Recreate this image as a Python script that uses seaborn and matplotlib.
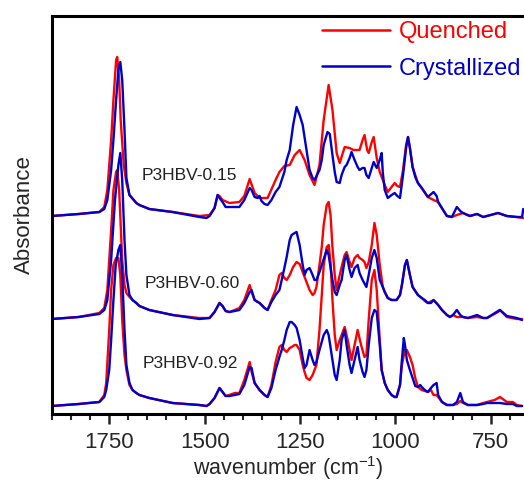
import numpy as np
import pandas as pd
import matplotlib
matplotlib.use("Agg")
import matplotlib.pyplot as plt
from matplotlib.lines import Line2D
from matplotlib.ticker import MultipleLocator
import seaborn as sns

# ---------------- data (wavenumber in cm^-1, absorbance in a.u. x100 above baseline) ----------------
wn_015_q = [1900,1830,1776,1763,1755,1745,1739,1732,1729,1724,1720,1712,1705,1697,1679,1671,1645,1584,1514,1487,1474,1466,1461,1453,1435,1409,1396,1382,1369,1356,1343,1335,1314,1304,1291,1277,1264,1251,1238,1225,1212,1199,1188,1175,1165,1154,1146,1133,1120,1110,1099,1094,1086,1081,1074,1070,1062,1057,1049,1041,1036,1028,1020,1010,1002,995,988,980,972,967,962,955,941,931,915,900,888,875,865,852,839,823,805,786,770,731,708,682,665]
a_015_q = [0,2,4,9,26,76,116,156,159,136,96,51,33,21,13,11,7,4,0,1,8,21,20,16,13,14,20,37,23,18,18,18,36,44,50,51,61,66,56,41,31,51,96,131,106,63,53,69,68,66,66,66,76,81,66,63,74,79,58,44,39,31,24,29,33,30,29,46,71,79,68,49,33,28,19,16,14,6,0,-1,1,3,0,2,-1,3,0,-1,-2]

wn_015_c = [1900,1830,1776,1763,1755,1745,1739,1732,1726,1721,1716,1710,1705,1697,1679,1671,1645,1584,1514,1495,1487,1474,1466,1461,1453,1445,1435,1409,1396,1382,1377,1369,1361,1356,1351,1343,1335,1325,1314,1304,1298,1291,1285,1277,1268,1259,1251,1243,1233,1225,1217,1212,1199,1193,1188,1178,1172,1165,1159,1154,1146,1141,1133,1128,1120,1115,1107,1099,1094,1086,1081,1076,1070,1062,1057,1049,1041,1036,1033,1028,1020,1010,1002,995,988,980,972,967,962,955,948,941,931,915,900,892,888,875,865,852,839,830,823,805,786,770,731,708,682,668,665]
a_015_c = [0,2,4,7,16,46,76,116,146,154,136,86,38,21,13,11,7,4,-1,-2,0,8,21,18,14,9,9,9,16,28,26,19,18,20,15,12,11,16,24,29,36,44,56,66,91,109,101,91,66,46,38,36,46,56,71,84,82,61,44,34,33,41,49,51,58,64,56,49,46,48,48,41,38,48,54,48,56,63,43,26,18,21,23,20,18,41,68,79,68,49,39,33,28,19,24,20,14,6,0,-1,9,5,3,0,2,-1,3,0,-1,-1,7]

wn_060_q = [1900,1830,1776,1763,1755,1745,1739,1732,1729,1724,1716,1710,1705,1697,1689,1679,1671,1645,1584,1514,1487,1474,1461,1453,1445,1435,1421,1409,1396,1382,1377,1369,1356,1343,1335,1325,1314,1304,1298,1291,1285,1277,1268,1259,1251,1243,1238,1233,1225,1217,1212,1207,1199,1193,1188,1180,1175,1170,1165,1159,1154,1146,1141,1133,1128,1120,1115,1107,1099,1094,1086,1081,1076,1070,1062,1055,1049,1041,1033,1028,1020,1010,1002,997,988,983,975,970,962,955,941,931,923,915,900,888,878,865,857,849,839,823,810,786,770,760,731,726,708,682,668]
a_060_q = [0,2,6,11,29,89,129,147,149,129,59,34,26,22,19,16,13,9,4,1,1,7,16,13,8,7,9,11,19,34,27,19,16,11,9,19,29,44,46,41,39,44,52,57,55,47,42,37,29,24,26,32,54,72,94,114,117,104,72,44,29,44,52,64,67,57,52,61,64,61,59,57,51,57,74,96,84,54,32,27,21,19,19,19,24,34,54,59,44,32,24,21,18,16,19,14,9,4,2,4,2,2,1,2,1,1,7,9,2,0,0]

wn_060_c = [1900,1830,1776,1763,1755,1745,1735,1726,1721,1716,1710,1705,1697,1689,1679,1671,1645,1584,1514,1487,1474,1461,1453,1445,1435,1421,1409,1396,1382,1377,1369,1361,1356,1343,1335,1325,1314,1304,1298,1291,1285,1277,1272,1264,1259,1251,1243,1238,1233,1225,1217,1212,1207,1199,1193,1180,1175,1165,1159,1154,1146,1141,1133,1128,1120,1115,1107,1099,1094,1086,1076,1070,1062,1055,1049,1041,1033,1028,1020,1010,1002,997,988,983,975,970,962,955,941,931,923,915,907,900,888,878,865,857,849,839,830,823,810,786,770,760,731,726,708,682,668]
a_060_c = [0,2,5,9,19,59,119,154,166,139,79,44,24,19,16,13,9,4,0,1,7,16,13,8,7,8,9,16,27,29,19,17,16,11,9,17,24,29,39,51,62,79,84,86,87,74,54,44,49,51,44,39,39,47,54,69,64,39,27,24,34,39,59,64,49,42,51,54,46,39,32,44,61,69,61,39,32,27,21,19,19,19,24,34,54,59,44,32,24,21,19,16,16,19,14,9,4,2,4,9,4,2,1,4,1,1,8,9,3,1,-1]

wn_092_q = [1900,1830,1776,1763,1758,1750,1745,1739,1732,1726,1721,1716,1710,1705,1697,1689,1679,1671,1645,1584,1514,1495,1487,1474,1461,1453,1445,1435,1421,1409,1396,1382,1377,1369,1356,1343,1335,1325,1314,1304,1298,1291,1285,1277,1272,1264,1259,1251,1243,1238,1233,1225,1217,1207,1199,1193,1188,1180,1175,1170,1165,1159,1154,1146,1141,1133,1125,1115,1107,1099,1090,1081,1076,1070,1062,1055,1049,1041,1036,1028,1020,1010,1002,997,988,983,975,970,962,955,948,941,931,923,915,907,900,892,878,865,857,849,839,830,823,810,786,770,760,740,726,715,708,692,682,668]
a_092_q = [0,2,4,11,23,76,116,141,148,148,131,86,51,36,21,16,13,11,8,3,1,0,2,8,18,14,10,11,13,13,26,44,34,23,16,11,9,21,44,59,61,56,54,58,59,61,61,56,41,34,28,26,31,41,76,111,141,159,161,144,106,71,56,66,71,79,66,46,61,76,61,49,51,86,126,136,116,66,36,23,16,11,9,9,21,41,56,56,49,41,28,19,16,15,14,16,11,11,4,1,1,1,2,5,3,1,1,3,4,6,9,6,4,4,1,0]

wn_092_c = [1900,1830,1776,1763,1758,1750,1745,1739,1733,1726,1721,1716,1710,1705,1697,1689,1679,1671,1645,1584,1514,1495,1487,1474,1461,1453,1445,1435,1421,1409,1396,1382,1377,1369,1356,1343,1335,1325,1314,1304,1298,1291,1285,1277,1272,1264,1259,1251,1243,1238,1233,1225,1217,1212,1207,1199,1188,1180,1175,1165,1159,1154,1146,1141,1133,1128,1120,1115,1107,1099,1094,1086,1081,1076,1070,1062,1055,1049,1041,1036,1028,1020,1010,1002,997,988,983,978,975,970,962,955,948,941,935,931,923,915,907,900,892,888,878,865,857,849,839,830,823,810,786,770,760,740,726,708,692,682,668]
a_092_c = [0,2,4,9,16,36,66,106,141,156,161,131,76,41,23,16,13,11,8,3,1,0,2,8,18,14,10,10,11,12,21,39,38,23,16,11,9,18,36,49,56,66,76,84,84,81,78,66,48,38,41,56,46,41,44,56,71,76,71,46,31,26,46,66,76,61,41,33,46,59,46,34,29,36,61,88,96,94,61,36,23,16,11,9,9,21,46,68,61,46,36,28,20,19,21,19,16,14,18,21,23,11,4,1,1,1,4,13,4,1,1,2,3,3,3,2,2,0,0]

samples = ["P3HBV-0.15", "P3HBV-0.60", "P3HBV-0.92"]
states = ["Quenched", "Crystallized"]
series = {
    ("P3HBV-0.15", "Quenched"): (wn_015_q, a_015_q),
    ("P3HBV-0.15", "Crystallized"): (wn_015_c, a_015_c),
    ("P3HBV-0.60", "Quenched"): (wn_060_q, a_060_q),
    ("P3HBV-0.60", "Crystallized"): (wn_060_c, a_060_c),
    ("P3HBV-0.92", "Quenched"): (wn_092_q, a_092_q),
    ("P3HBV-0.92", "Crystallized"): (wn_092_c, a_092_c),
}
# vertical stacking offsets (layout)
offsets = {"P3HBV-0.15": 1.98, "P3HBV-0.60": 0.95, "P3HBV-0.92": 0.08}

rows = []
for (s, st), (wn, a) in series.items():
    assert len(wn) == len(a), (s, st, len(wn), len(a))
    for w, v in zip(wn, a):
        rows.append({"wn": w, "A": v / 100.0 + offsets[s], "sample": s, "state": st})
df = pd.DataFrame(rows)

# ---------------- style ----------------
sns.set_style("ticks")
plt.rcParams["font.family"] = ["Liberation Sans", "DejaVu Sans"]
plt.rcParams["mathtext.fontset"] = "custom"
plt.rcParams["mathtext.rm"] = "Liberation Sans"
plt.rcParams["mathtext.default"] = "regular"

fig = plt.figure(figsize=(5.24, 4.84), dpi=100)
ax = fig.add_axes([52 / 524, 70 / 484, 1 - 52 / 524, (414 - 16) / 484])

palette = {"Quenched": "#ff0000", "Crystallized": "#0000cc"}
sns.lineplot(data=df, x="wn", y="A", hue="state", units="sample", estimator=None,
             hue_order=states, palette=palette, sort=False, linewidth=1.7,
             legend=False, ax=ax)

ax.set_xlim(1900, 663)
ax.set_ylim(0, 3.98)
ax.set_xticks([1750, 1500, 1250, 1000, 750])
ax.xaxis.set_minor_locator(MultipleLocator(50))
ax.set_yticks([])
ax.tick_params(axis="x", which="major", length=7, width=1.8, labelsize=16, pad=6, direction="out")
ax.tick_params(axis="x", which="minor", length=4, width=1.5, direction="out")
for sp in ["left", "bottom", "top"]:
    ax.spines[sp].set_linewidth(2.2)
    ax.spines[sp].set_color("black")
ax.spines["right"].set_visible(False)

ax.set_xlabel("wavenumber (cm$^{\\mathrm{-1}}$)", fontsize=15.5, labelpad=0.5)
ax.set_ylabel("Absorbance", fontsize=16, labelpad=12)

label_pos = {"P3HBV-0.15": (1666, 2.39), "P3HBV-0.60": (1658, 1.31), "P3HBV-0.92": (1663, 0.51)}
for s in samples:
    x, y = label_pos[s]
    ax.text(x, y, s, fontsize=12.5, ha="left", va="center", color="#222222")

handles = [Line2D([], [], color=palette[st], lw=1.8) for st in states]
leg = ax.legend(handles, states, loc="upper left", bbox_to_anchor=(322 / 524, 1 - 21 / 484),
                bbox_transform=fig.transFigure, frameon=False, fontsize=17,
                handlelength=2.9, handletextpad=0.35, labelspacing=0.62,
                borderpad=0, borderaxespad=0)
for t, st in zip(leg.get_texts(), states):
    t.set_color(palette[st])

fig.savefig("out.png", dpi=100)
